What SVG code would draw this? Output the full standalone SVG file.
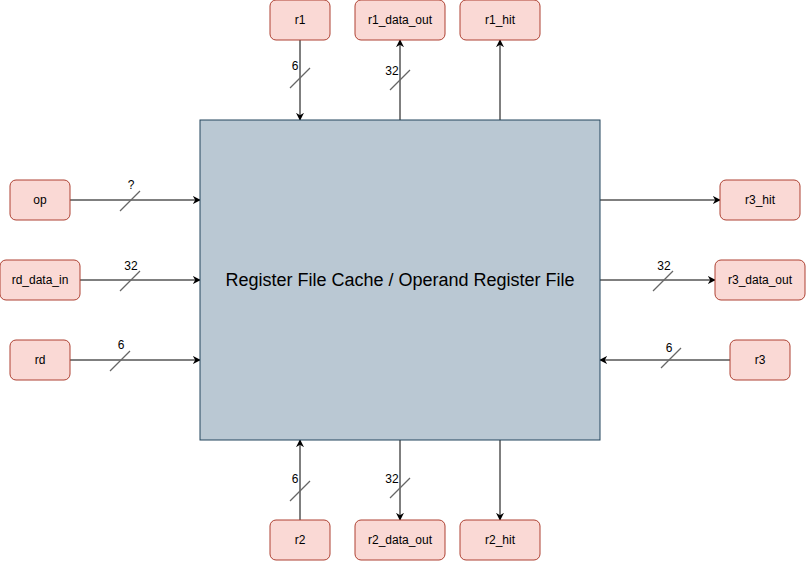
<svg xmlns="http://www.w3.org/2000/svg" width="807" height="562" viewBox="0 0 807 562">
<defs>
<style>
.node rect{fill:#fad9d5;stroke:#ae4132;stroke-width:1}
.node text,.lbl{font-family:"Liberation Sans",Arial,sans-serif;font-size:12px;fill:#000;text-anchor:middle}
.main rect{fill:#bac8d3;stroke:#23445d;stroke-width:1}
.main text{font-family:"Liberation Sans",Arial,sans-serif;font-size:18px;fill:#000;text-anchor:middle}
.edge{stroke:#000;stroke-width:1;fill:none;marker-end:url(#arr)}
.slash{stroke:#666;stroke-width:1.3}
</style>
<marker id="arr" viewBox="0 0 10 10" refX="9" refY="5" markerWidth="8" markerHeight="8" markerUnits="userSpaceOnUse" orient="auto">
<path d="M0,0 L10,5 L0,10 L3,5 Z" fill="#000"/>
</marker>
</defs>
<rect width="807" height="562" fill="#fff"/>
<g id="connectors">
<line class="edge" x1="300" y1="40" x2="300" y2="120"/>
<line class="edge" x1="400" y1="120" x2="400" y2="40"/>
<line class="edge" x1="500" y1="120" x2="500" y2="40"/>
<line class="edge" x1="70" y1="200" x2="200" y2="200"/>
<line class="edge" x1="80" y1="280" x2="200" y2="280"/>
<line class="edge" x1="70" y1="360" x2="200" y2="360"/>
<line class="edge" x1="600" y1="200" x2="720" y2="200"/>
<line class="edge" x1="600" y1="280" x2="715" y2="280"/>
<line class="edge" x1="730" y1="360" x2="600" y2="360"/>
<line class="edge" x1="300" y1="520" x2="300" y2="440"/>
<line class="edge" x1="400" y1="440" x2="400" y2="520"/>
<line class="edge" x1="500" y1="440" x2="500" y2="520"/>
<line class="slash" x1="290" y1="88" x2="310" y2="68"/>
<line class="slash" x1="390" y1="90" x2="410" y2="70"/>
<line class="slash" x1="120" y1="211" x2="140" y2="191"/>
<line class="slash" x1="120" y1="291" x2="140" y2="271"/>
<line class="slash" x1="110" y1="371" x2="130" y2="351"/>
<line class="slash" x1="653" y1="291" x2="673" y2="271"/>
<line class="slash" x1="661" y1="368" x2="681" y2="348"/>
<line class="slash" x1="290" y1="501" x2="310" y2="481"/>
<line class="slash" x1="390" y1="498" x2="410" y2="478"/>
<text class="lbl" x="295" y="70">6</text>
<text class="lbl" x="392" y="75">32</text>
<text class="lbl" x="131" y="189">?</text>
<text class="lbl" x="131" y="270">32</text>
<text class="lbl" x="121" y="349">6</text>
<text class="lbl" x="664" y="270">32</text>
<text class="lbl" x="669" y="352">6</text>
<text class="lbl" x="295" y="483">6</text>
<text class="lbl" x="392" y="483">32</text>
</g>
<g id="main" class="main"><rect x="200" y="120" width="400" height="320"/><text x="400" y="286">Register File Cache / Operand Register File</text></g>
<g id="r1" class="node"><rect x="270" y="0" width="60" height="40" rx="6"/><text x="300" y="24">r1</text></g>
<g id="r1_data_out" class="node"><rect x="355" y="0" width="90" height="40" rx="6"/><text x="400" y="24">r1_data_out</text></g>
<g id="r1_hit" class="node"><rect x="460" y="0" width="80" height="40" rx="6"/><text x="500" y="24">r1_hit</text></g>
<g id="op" class="node"><rect x="10" y="180" width="60" height="40" rx="6"/><text x="40" y="204">op</text></g>
<g id="rd_data_in" class="node"><rect x="0" y="260" width="80" height="40" rx="6"/><text x="40" y="284">rd_data_in</text></g>
<g id="rd" class="node"><rect x="10" y="340" width="60" height="40" rx="6"/><text x="40" y="364">rd</text></g>
<g id="r3_hit" class="node"><rect x="720" y="180" width="80" height="40" rx="6"/><text x="760" y="204">r3_hit</text></g>
<g id="r3_data_out" class="node"><rect x="715" y="260" width="90" height="40" rx="6"/><text x="760" y="284">r3_data_out</text></g>
<g id="r3" class="node"><rect x="730" y="340" width="60" height="40" rx="6"/><text x="760" y="364">r3</text></g>
<g id="r2" class="node"><rect x="270" y="520" width="60" height="40" rx="6"/><text x="300" y="544">r2</text></g>
<g id="r2_data_out" class="node"><rect x="355" y="520" width="90" height="40" rx="6"/><text x="400" y="544">r2_data_out</text></g>
<g id="r2_hit" class="node"><rect x="460" y="520" width="80" height="40" rx="6"/><text x="500" y="544">r2_hit</text></g>
</svg>
